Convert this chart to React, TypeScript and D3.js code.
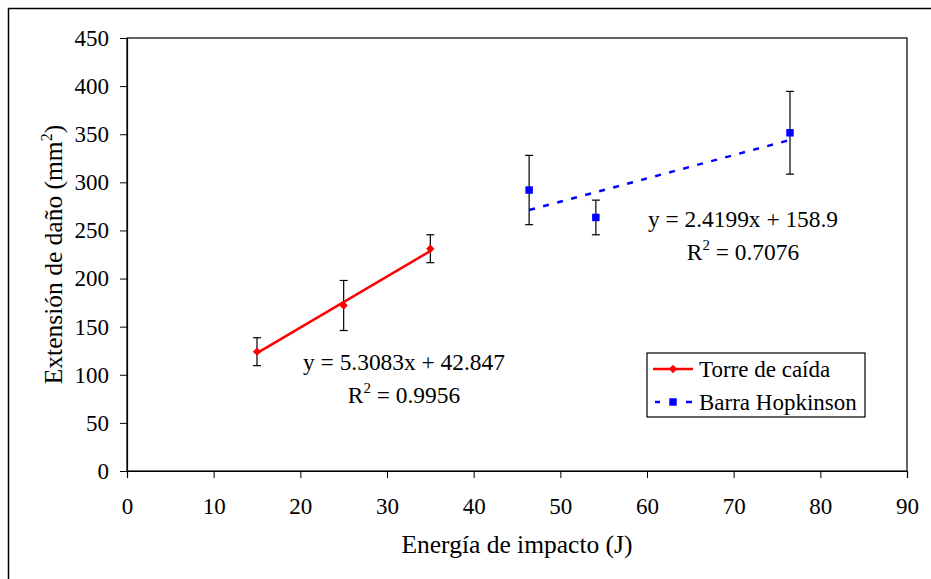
import { useEffect, useRef } from 'react';
import * as d3 from 'd3';

// Torre de caída
const torreX = [15, 25, 35];
const torreY = [124, 172, 231];
const torreErr = [14.5, 26, 14.5];
const torreFit = { m: 5.3083, b: 42.847 };

// Barra Hopkinson
const barraX = [46.4, 54.1, 76.5];
const barraY = [292, 263.5, 351.5];
const barraErr = [36, 18, 43];
const barraFit = { m: 2.4199, b: 158.9 };

const xTicks = [0, 10, 20, 30, 40, 50, 60, 70, 80, 90];
const yTicks = [0, 50, 100, 150, 200, 250, 300, 350, 400, 450];

const FONT = '"Liberation Serif", "Times New Roman", serif';

export default function App() {
  const svgRef = useRef<SVGSVGElement>(null);

  useEffect(() => {
    const svg = d3.select(svgRef.current);
    svg.selectAll('*').remove();

    const width = 931;
    const height = 579;
    const margin = { top: 38, right: 24, bottom: 108, left: 127 };

    const x = d3.scaleLinear().domain([0, 90]).range([margin.left, width - margin.right]);
    const y = d3.scaleLinear().domain([0, 450]).range([height - margin.bottom, margin.top]);

    // outer frame
    svg.append('rect')
      .attr('x', 8.5).attr('y', 8.5)
      .attr('width', 940).attr('height', 600)
      .attr('fill', 'none').attr('stroke', '#000').attr('stroke-width', 1.5);

    // plot area frame
    svg.append('rect')
      .attr('x', x(0)).attr('y', y(450))
      .attr('width', x(90) - x(0)).attr('height', y(0) - y(450))
      .attr('fill', 'none').attr('stroke', '#000').attr('stroke-width', 1.2);

    const xAxis = svg.append('g')
      .attr('transform', `translate(0, ${y(0)})`)
      .call(d3.axisBottom(x).tickValues(xTicks).tickSize(7).tickPadding(20).tickFormat(d3.format('d')));
    const yAxis = svg.append('g')
      .attr('transform', `translate(${x(0)}, 0)`)
      .call(d3.axisLeft(y).tickValues(yTicks).tickSize(7).tickPadding(11).tickFormat(d3.format('d')));

    [xAxis, yAxis].forEach((g) => {
      g.select('.domain').attr('stroke', '#000').attr('stroke-width', 1.2);
      g.selectAll('.tick line').attr('stroke', '#000');
      g.selectAll('.tick text').attr('font-family', FONT).attr('font-size', 23).attr('fill', '#000');
    });

    // axis titles
    svg.append('text')
      .attr('x', (x(0) + x(90)) / 2).attr('y', 553)
      .attr('text-anchor', 'middle')
      .attr('font-family', FONT).attr('font-size', 25.5)
      .text('Energía de impacto (J)');

    const yt = svg.append('text')
      .attr('transform', `translate(62, ${(y(0) + y(450)) / 2}) rotate(-90)`)
      .attr('text-anchor', 'middle')
      .attr('font-family', FONT).attr('font-size', 25.5);
    yt.append('tspan').text('Extensión de daño (mm');
    yt.append('tspan').attr('dy', -10).attr('font-size', 16).text('2');
    yt.append('tspan').attr('dy', 10).text(')');

    const errorBars = (xs: number[], ys: number[], es: number[]) => {
      xs.forEach((xv, i) => {
        const g = svg.append('g').attr('stroke', '#000').attr('stroke-width', 1.2);
        g.append('line').attr('x1', x(xv)).attr('x2', x(xv)).attr('y1', y(ys[i] - es[i])).attr('y2', y(ys[i] + es[i]));
        g.append('line').attr('x1', x(xv) - 4).attr('x2', x(xv) + 4).attr('y1', y(ys[i] - es[i])).attr('y2', y(ys[i] - es[i]));
        g.append('line').attr('x1', x(xv) - 4).attr('x2', x(xv) + 4).attr('y1', y(ys[i] + es[i])).attr('y2', y(ys[i] + es[i]));
      });
    };
    errorBars(torreX, torreY, torreErr);
    errorBars(barraX, barraY, barraErr);

    // trend lines
    const t0 = d3.min(torreX)!, t1 = d3.max(torreX)!;
    svg.append('line')
      .attr('x1', x(t0)).attr('y1', y(torreFit.m * t0 + torreFit.b))
      .attr('x2', x(t1)).attr('y2', y(torreFit.m * t1 + torreFit.b))
      .attr('stroke', '#ff0000').attr('stroke-width', 2.5);
    const b0 = d3.min(barraX)!, b1 = d3.max(barraX)!;
    svg.append('line')
      .attr('x1', x(b0)).attr('y1', y(barraFit.m * b0 + barraFit.b))
      .attr('x2', x(b1)).attr('y2', y(barraFit.m * b1 + barraFit.b))
      .attr('stroke', '#0000ff').attr('stroke-width', 2.5).attr('stroke-dasharray', '6,8.5');

    // markers
    const diamond = d3.symbol().type(d3.symbolDiamond2).size(44);
    const square = d3.symbol().type(d3.symbolSquare).size(56);
    torreX.forEach((xv, i) => {
      svg.append('path').attr('d', diamond()).attr('fill', '#ff0000')
        .attr('transform', `translate(${x(xv)}, ${y(torreY[i])})`);
    });
    barraX.forEach((xv, i) => {
      svg.append('path').attr('d', square()).attr('fill', '#0000ff')
        .attr('transform', `translate(${x(xv)}, ${y(barraY[i])})`);
    });

    // equations
    const eq = (cx: number, by: number, line1: string, r2: string) => {
      svg.append('text').attr('x', cx).attr('y', by).attr('text-anchor', 'middle')
        .attr('font-family', FONT).attr('font-size', 23.4).text(line1);
      const t = svg.append('text').attr('x', cx).attr('y', by + 33).attr('text-anchor', 'middle')
        .attr('font-family', FONT).attr('font-size', 23.4);
      t.append('tspan').text('R');
      t.append('tspan').attr('dy', -10).attr('font-size', 15).text('2');
      t.append('tspan').attr('dy', 10).text(` = ${r2}`);
    };
    eq(404, 370, 'y = 5.3083x + 42.847', '0.9956');
    eq(743, 227, 'y = 2.4199x + 158.9', '0.7076');

    // legend
    const lg = svg.append('g').attr('transform', 'translate(647, 353)');
    lg.append('rect').attr('width', 218).attr('height', 64).attr('fill', '#fff').attr('stroke', '#000').attr('stroke-width', 1.2);
    lg.append('line').attr('x1', 6).attr('x2', 46).attr('y1', 16).attr('y2', 16).attr('stroke', '#ff0000').attr('stroke-width', 2.5);
    lg.append('path').attr('d', diamond()).attr('fill', '#ff0000').attr('transform', 'translate(26, 16)');
    lg.append('line').attr('x1', 8).attr('x2', 46).attr('y1', 49).attr('y2', 49).attr('stroke', '#0000ff').attr('stroke-width', 2.5).attr('stroke-dasharray', '5,26,6,100');
    lg.append('path').attr('d', square()).attr('fill', '#0000ff').attr('transform', 'translate(26, 49)');
    lg.append('text').attr('x', 52).attr('y', 24).attr('font-family', FONT).attr('font-size', 23).text('Torre de caída');
    lg.append('text').attr('x', 52).attr('y', 57).attr('font-family', FONT).attr('font-size', 23).text('Barra Hopkinson');
  }, []);

  return (
    <svg
      ref={svgRef}
      width={931}
      height={579}
      style={{ position: 'absolute', left: 0, top: 0, background: '#fff' }}
    />
  );
}
